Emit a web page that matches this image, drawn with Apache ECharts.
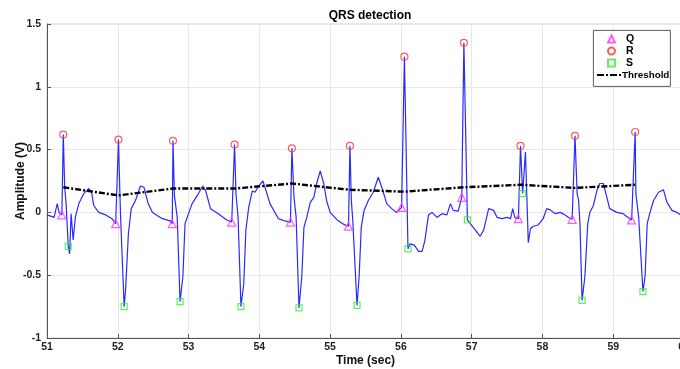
<!DOCTYPE html>
<html>
<head>
<meta charset="utf-8">
<script src="https://cdn.jsdelivr.net/npm/echarts@6/dist/echarts.min.js"></script>
<style>
    html, body { margin: 0; padding: 0; background: #fff; }
    #myChart { width: 680px; height: 369px; }
</style>
</head>
<body>
<div id="myChart"></div>
<script>
// ecg signal, [time (sec), amplitude (V)]
var ecgSignal = [
    [51.00, -0.02], [51.10, -0.04], [51.145, 0.07], [51.17, 0.00], [51.21, -0.02], [51.23, 0.62],
    [51.25, 0.20], [51.27, 0.07], [51.30, -0.27], [51.32, -0.33], [51.34, -0.01], [51.37, -0.22],
    [51.40, -0.04], [51.45, 0.07], [51.52, 0.15], [51.59, 0.19], [51.63, 0.16], [51.66, 0.055],
    [51.73, 0.00], [51.83, -0.02], [51.92, -0.05], [51.97, -0.09], [52.01, 0.58], [52.03, 0.15],
    [52.04, -0.04], [52.09, -0.75], [52.11, -0.62], [52.15, -0.17], [52.19, 0.03], [52.25, 0.095],
    [52.32, 0.21], [52.37, 0.20], [52.43, 0.07], [52.49, 0.00], [52.63, -0.05], [52.75, -0.07],
    [52.77, -0.09], [52.78, 0.57], [52.80, 0.135], [52.84, -0.04], [52.88, -0.71], [52.92, -0.51],
    [52.95, -0.09], [53.00, -0.01], [53.05, 0.07], [53.14, 0.15], [53.20, 0.21], [53.24, 0.175],
    [53.31, 0.03], [53.42, -0.01], [53.54, -0.06], [53.61, -0.077], [53.65, 0.54], [53.67, 0.15],
    [53.70, -0.04], [53.74, -0.75], [53.78, -0.57], [53.81, -0.14], [53.85, 0.04], [53.90, 0.17],
    [53.94, 0.16], [53.99, 0.21], [54.05, 0.25], [54.08, 0.20], [54.15, 0.07], [54.27, -0.05],
    [54.37, -0.07], [54.44, -0.077], [54.46, 0.51], [54.49, 0.12], [54.52, -0.04], [54.56, -0.76],
    [54.60, -0.51], [54.63, -0.12], [54.67, -0.04], [54.72, 0.08], [54.77, 0.12], [54.81, 0.23],
    [54.86, 0.33], [54.91, 0.23], [54.95, 0.095], [55.00, 0.00], [55.10, -0.06], [55.19, -0.095],
    [55.26, -0.11], [55.28, 0.53], [55.30, 0.095], [55.32, -0.06], [55.38, -0.74], [55.41, -0.51],
    [55.44, -0.12], [55.48, 0.016], [55.54, 0.095], [55.61, 0.16], [55.68, 0.28], [55.73, 0.20],
    [55.80, 0.07], [55.87, 0.03], [55.94, 0.00], [56.01, 0.04], [56.05, 1.24], [56.10, -0.29],
    [56.13, -0.25], [56.19, -0.26], [56.25, -0.31], [56.30, -0.31], [56.34, -0.22], [56.39, -0.02],
    [56.44, 0.00], [56.51, -0.04], [56.58, -0.01], [56.65, -0.02], [56.70, 0.07], [56.74, 0.016],
    [56.81, 0.01], [56.86, 0.12], [56.89, 1.35], [56.94, -0.06], [56.98, -0.09], [57.05, -0.14],
    [57.12, -0.19], [57.17, -0.14], [57.24, 0.03], [57.31, 0.016], [57.36, -0.04], [57.43, -0.05],
    [57.50, -0.04], [57.55, -0.05], [57.58, 0.03], [57.61, -0.04], [57.66, -0.05], [57.69, 0.53],
    [57.72, 0.15], [57.76, 0.48], [57.80, -0.24], [57.83, -0.13], [57.87, -0.11], [57.94, -0.10],
    [58.01, -0.05], [58.06, 0.03], [58.11, 0.02], [58.18, -0.01], [58.25, 0.00], [58.32, -0.02],
    [58.37, -0.04], [58.42, -0.055], [58.46, 0.61], [58.49, 0.15], [58.51, 0.10], [58.53, -0.09],
    [58.56, -0.70], [58.60, -0.51], [58.64, -0.09], [58.67, 0.00], [58.72, 0.055], [58.77, 0.175],
    [58.81, 0.23], [58.86, 0.23], [58.91, 0.12], [58.95, 0.03], [59.05, 0.00], [59.14, -0.01],
    [59.21, -0.04], [59.26, -0.06], [59.31, 0.64], [59.32, 0.15], [59.36, -0.04], [59.42, -0.63],
    [59.45, -0.51], [59.48, -0.09], [59.52, 0.00], [59.57, 0.095], [59.64, 0.16], [59.71, 0.18],
    [59.76, 0.08], [59.83, 0.016], [59.90, 0.00], [59.95, -0.02], [60.00, -0.02]
];

var qPoints = [[51.21, -0.02], [51.97, -0.09], [52.77, -0.09], [53.61, -0.077], [54.44, -0.077], [55.26, -0.11],
    [56.01, 0.04], [56.86, 0.12], [57.66, -0.05], [58.42, -0.055], [59.26, -0.06]];
var rPoints = [[51.23, 0.62], [52.01, 0.58], [52.78, 0.57], [53.65, 0.54], [54.46, 0.51], [55.28, 0.53],
    [56.05, 1.24], [56.89, 1.35], [57.69, 0.53], [58.46, 0.61], [59.31, 0.64]];
var sPoints = [[51.30, -0.27], [52.09, -0.75], [52.88, -0.71], [53.74, -0.75], [54.56, -0.76], [55.38, -0.74],
    [56.10, -0.29], [56.94, -0.06], [57.72, 0.15], [58.56, -0.70], [59.42, -0.63]];
var thresholdVals = [0.20, 0.135, 0.19, 0.19, 0.23, 0.18, 0.165, 0.20, 0.22, 0.195, 0.22];

var xTicks = [51, 52, 53, 54, 55, 56, 57, 58, 59, 60];
var yTicks = [-1, -0.5, 0, 0.5, 1, 1.5];

function drawchart() {
    var chart = echarts.init(document.getElementById('myChart'));

    // threshold is drawn at each R peak time
    var thresholdLine = [];
    for (var i = 0; i < rPoints.length; i++) {
        thresholdLine.push([rPoints[i][0], thresholdVals[i]]);
    }

    var fontFam = '"Liberation Sans", Arial, sans-serif';
    var legendText = { fontFamily: fontFam, fontSize: 10.5, fontWeight: 'bold', color: '#000', lineHeight: 12 };
    var option = {
        backgroundColor: '#fff',
        animation: false,
        title: {
            text: 'QRS detection',
            left: 365,
            textAlign: 'center',
            top: 5,
            textStyle: { fontFamily: fontFam, fontSize: 12, fontWeight: 'bold', color: '#000' }
        },
        // legend box (two legends share it: markers and the dash-dot line)
        graphic: [{
            type: 'rect',
            left: 593,
            top: 30,
            shape: { width: 77, height: 56 },
            style: { fill: '#fff', stroke: '#333', lineWidth: 0.8 },
            z: 3
        }],
        legend: [
            {
                orient: 'vertical',
                left: 607,
                top: 33,
                padding: 0,
                itemGap: 0,
                itemWidth: 7,
                itemHeight: 7,
                data: ['Q', 'R', 'S'],
                textStyle: Object.assign({ padding: [0, 0, 0, 6] }, legendText),
                z: 5
            },
            {
                orient: 'vertical',
                left: 597,
                top: 69,
                padding: 0,
                itemWidth: 24,
                itemHeight: 2.5,
                data: [{ name: 'Threshold', icon: 'path://M0,0h7v2h-7z M9,0h2v2h-2z M13,0h7v2h-7z M22,0h2v2h-2z' }],
                itemStyle: { color: '#000' },
                textStyle: Object.assign({ padding: [0, 0, 0, -4] }, legendText, { fontSize: 9.8 }),
                z: 5
            }
        ],
        grid: {
            left: 47,
            right: -4,
            top: 24,
            bottom: 31,
            containLabel: false,
            outerBoundsMode: 'none',
            show: true,
            borderColor: '#d0d0d0',
            borderWidth: 1
        },
        xAxis: {
            type: 'value',
            min: xTicks[0],
            max: xTicks[xTicks.length - 1],
            interval: 1,
            name: 'Time (sec)',
            nameLocation: 'middle',
            nameGap: 17,
            nameMoveOverlap: false,
            nameTextStyle: { fontFamily: fontFam, fontSize: 12, fontWeight: 'bold', color: '#111' },
            axisLine: { onZero: false, lineStyle: { color: '#555' } },
            axisTick: { inside: true, length: 4, lineStyle: { color: '#555' } },
            axisLabel: { fontFamily: fontFam, fontSize: 10.5, fontWeight: 'bold', color: '#222', margin: 4 },
            splitLine: { show: true, lineStyle: { color: '#e8e8e8' } }
        },
        yAxis: {
            type: 'value',
            min: yTicks[0],
            max: yTicks[yTicks.length - 1],
            interval: 0.5,
            name: 'Amplitude (V)',
            nameLocation: 'middle',
            nameGap: 20,
            nameMoveOverlap: false,
            nameTextStyle: { fontFamily: fontFam, fontSize: 12, fontWeight: 'bold', color: '#111' },
            axisLine: { show: true, lineStyle: { color: '#555' } },
            axisTick: { show: true, inside: true, length: 4, lineStyle: { color: '#555' } },
            axisLabel: { fontFamily: fontFam, fontSize: 10.5, fontWeight: 'bold', color: '#222', margin: 6 },
            splitLine: { show: true, lineStyle: { color: '#e8e8e8' } }
        },
        series: [
            {
                name: 'ECG',
                type: 'line',
                data: ecgSignal,
                showSymbol: false,
                symbol: 'none',
                lineStyle: { color: '#2a2aff', width: 1.2 },
                z: 2
            },
            {
                name: 'Threshold',
                type: 'line',
                data: thresholdLine,
                symbol: 'none',
                itemStyle: { color: '#000' },
                lineStyle: { color: '#000', width: 2.4, type: [6, 2, 2, 2] },
                z: 3
            },
            {
                name: 'Q',
                type: 'scatter',
                data: qPoints,
                symbol: 'triangle',
                symbolSize: 8,
                itemStyle: { color: 'rgba(255,255,255,0)', borderColor: '#ff33ff', borderWidth: 1.2 },
                z: 4
            },
            {
                name: 'R',
                type: 'scatter',
                data: rPoints,
                symbol: 'circle',
                symbolSize: 7,
                itemStyle: { color: 'rgba(255,255,255,0)', borderColor: '#ff3333', borderWidth: 1.2 },
                z: 4
            },
            {
                name: 'S',
                type: 'scatter',
                data: sPoints,
                symbol: 'rect',
                symbolSize: 6,
                itemStyle: { color: 'rgba(255,255,255,0)', borderColor: '#33ee33', borderWidth: 1.2 },
                z: 4
            }
        ]
    };
    chart.setOption(option);
    window.addEventListener("resize", () => {
        chart.resize();
    });
}

drawchart();
</script>
</body>
</html>
